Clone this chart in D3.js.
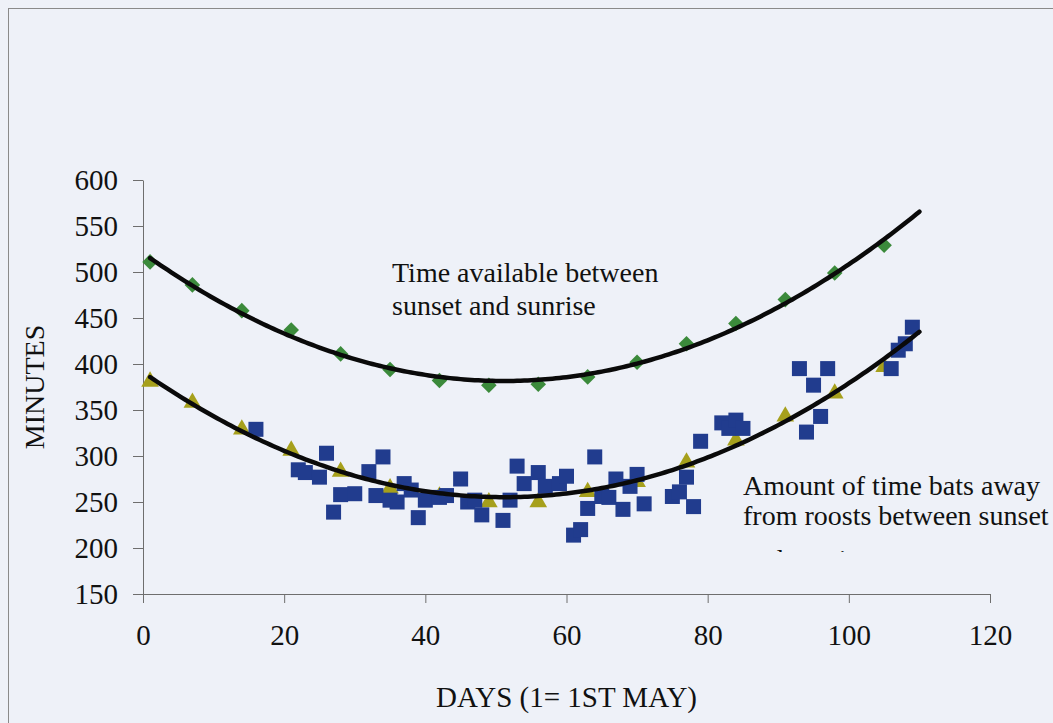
<!DOCTYPE html>
<html>
<head>
<meta charset="utf-8">
<script src="https://cdn.jsdelivr.net/npm/d3@7"></script>
<style>
  html, body { margin: 0; padding: 0; background: #eef1f8; }
  svg { display: block; }
  text { font-family: "Liberation Serif", "Times New Roman", serif; fill: #111; }
</style>
</head>
<body>
<svg id="chart" width="1053" height="723"></svg>
<script>
// ---- data ----
const xTicks = [0, 20, 40, 60, 80, 100, 120];
const yTicks = [150, 200, 250, 300, 350, 400, 450, 500, 550, 600];

// Time available between sunset and sunrise (green diamonds)
const nightDays   = [1, 7, 14, 21, 28, 35, 42, 49, 56, 63, 70, 77, 84, 91, 98, 105];
const nightValues = [511, 486, 458, 437, 411, 394, 382, 377, 378, 386, 402, 422, 444, 470, 499, 529];

// Weekly points for time bats are away (olive triangles)
const awayDays   = [1, 7, 14, 21, 28, 35, 42, 49, 56, 63, 70, 77, 84, 91, 98, 105];
const awayValues = [382, 359, 330, 307, 284, 266, 257, 251, 251, 262, 273, 294, 318, 344, 369, 398];

// Observed nightly values (blue squares)
const obsDays = [16, 22, 23, 25, 26, 27, 28, 30, 32, 33, 34, 35, 36, 37, 38, 39, 40, 42, 43, 45,
                 46, 47, 48, 51, 52, 53, 54, 56, 57, 59, 60, 61, 62, 63, 64, 65, 66, 67, 68, 69,
                 70, 71, 75, 76, 77, 78, 79, 82, 83, 84, 85, 93, 94, 95, 96, 97, 106, 107, 108, 109];
const obsValues = [329, 285, 282, 277, 303, 239, 258, 259, 283, 257, 299, 252, 250, 270, 263, 233, 252, 255, 257, 275,
                   250, 252, 236, 230, 252, 289, 270, 282, 267, 270, 278, 214, 220, 243, 299, 256, 255, 275, 242, 267,
                   280, 248, 256, 261, 277, 245, 316, 336, 330, 339, 330, 395, 326, 377, 343, 395, 395, 415, 422, 440];

const trendRange = [1, 110];

const xLabel = "DAYS (1= 1ST MAY)";
const yLabel = "MINUTES";
const noteNight = ["Time available between", "sunset and sunrise"];
const noteAway = ["Amount of time bats away", "from roosts between sunset", "and sunrise"];

// ---- helpers ----
function quadFit(xs, ys) {
  // least squares y = a + b x + c x^2
  let n = xs.length, s = [0,0,0,0,0], t = [0,0,0];
  for (let i = 0; i < n; i++) {
    const x = xs[i], y = ys[i];
    let p = 1;
    for (let k = 0; k < 5; k++) { s[k] += p; if (k < 3) t[k] += p * y; p *= x; }
  }
  const M = [[s[0], s[1], s[2], t[0]], [s[1], s[2], s[3], t[1]], [s[2], s[3], s[4], t[2]]];
  for (let i = 0; i < 3; i++) {
    let piv = i;
    for (let r = i + 1; r < 3; r++) if (Math.abs(M[r][i]) > Math.abs(M[piv][i])) piv = r;
    [M[i], M[piv]] = [M[piv], M[i]];
    for (let r = 0; r < 3; r++) {
      if (r === i) continue;
      const f = M[r][i] / M[i][i];
      for (let c = i; c < 4; c++) M[r][c] -= f * M[i][c];
    }
  }
  const a = M[0][3] / M[0][0], b = M[1][3] / M[1][1], c = M[2][3] / M[2][2];
  return x => a + b * x + c * x * x;
}

// ---- chart ----
const svg = d3.select("#chart");
const x = d3.scaleLinear().domain([0, 120]).range([143, 990]);
const y = d3.scaleLinear().domain([150, 600]).range([594, 180]);

// outer frame
svg.append("rect").attr("x", 8.5).attr("y", 8.5).attr("width", 1200).attr("height", 900)
  .attr("fill", "#eef1f8").attr("stroke", "#8a8a8a").attr("stroke-width", 1);

// axes
const axisColor = "#6e6e6e";
const yAxis = svg.append("g").attr("transform", `translate(${x(0)},0)`)
  .call(d3.axisLeft(y).tickValues(yTicks).tickSize(10).tickSizeOuter(0).tickPadding(15));
const xAxis = svg.append("g").attr("transform", `translate(0,${y(150)})`)
  .call(d3.axisBottom(x).tickValues(xTicks).tickSize(9).tickSizeOuter(0).tickPadding(21));
[xAxis, yAxis].forEach(g => {
  g.select(".domain").attr("stroke", axisColor).attr("stroke-width", 1);
  g.selectAll(".tick line").attr("stroke", axisColor).attr("stroke-width", 1);
  g.selectAll(".tick text").attr("font-family", "Liberation Serif, serif")
    .attr("font-size", 29).attr("fill", "#111");
});
xAxis.selectAll(".tick text").attr("dy", "0.71em");

// axis titles
svg.append("text").attr("x", (x(0) + x(120)) / 2).attr("y", 707)
  .attr("text-anchor", "middle").attr("font-size", 29).text(xLabel);
svg.append("text").attr("transform", `translate(44,${(y(150) + y(600)) / 2}) rotate(-90)`)
  .attr("text-anchor", "middle").attr("font-size", 28).text(yLabel);

// markers
const tri = d3.symbol().type(d3.symbolTriangle).size(135);
svg.append("g").selectAll("path").data(awayDays.map((d, i) => [d, awayValues[i]])).join("path")
  .attr("d", tri).attr("transform", d => `translate(${x(d[0])},${y(d[1]) + 1})`)
  .attr("fill", "#a6a01c");

svg.append("g").selectAll("rect").data(nightDays.map((d, i) => [d, nightValues[i]])).join("rect")
  .attr("x", -5.5).attr("y", -5.5).attr("width", 11).attr("height", 11)
  .attr("transform", d => `translate(${x(d[0])},${y(d[1])}) rotate(45)`)
  .attr("fill", "#3b8a3b");

svg.append("g").selectAll("rect").data(obsDays.map((d, i) => [d, obsValues[i]])).join("rect")
  .attr("x", d => x(d[0]) - 7.5).attr("y", d => y(d[1]) - 7.5)
  .attr("width", 15).attr("height", 15).attr("fill", "#213c8e");

// trend lines
const line = d3.line().x(d => x(d[0])).y(d => y(d[1])).curve(d3.curveLinear);
const fits = [quadFit(nightDays, nightValues), quadFit(awayDays, awayValues)];
fits.forEach(f => {
  const pts = d3.range(trendRange[0], trendRange[1] + 0.001, 0.5).map(d => [d, f(d)]);
  svg.append("path").datum(pts).attr("d", line).attr("fill", "none")
    .attr("stroke", "#0a0a0a").attr("stroke-width", 4.5).attr("stroke-linecap", "round");
});

// annotations
noteNight.forEach((t, i) => {
  svg.append("text").attr("x", 392).attr("y", 282 + i * 33).attr("font-size", 28).text(t);
});
svg.append("clipPath").attr("id", "noteClip").append("rect")
  .attr("x", 700).attr("y", 460).attr("width", 400).attr("height", 92);
const g2 = svg.append("g").attr("clip-path", "url(#noteClip)");
noteAway.forEach((t, i) => {
  g2.append("text").attr("x", 743).attr("y", 495 + i * 30 + (i === 2 ? 14 : 0)).attr("font-size", 28).text(t);
});
</script>
</body>
</html>
